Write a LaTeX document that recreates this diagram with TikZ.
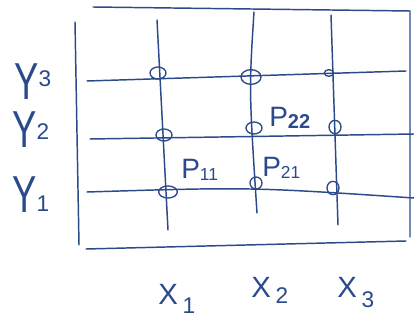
\documentclass[tikz,border=0pt]{standalone}
\usepackage{fontspec}
\setmainfont{Liberation Sans}
\usetikzlibrary{shapes.geometric}
\definecolor{ink}{HTML}{2B4A8C}
\newcommand{\bigY}{\scalebox{0.7}[1]{\fontsize{39}{39}\selectfont Y}}
\begin{document}
\begin{tikzpicture}[x=0.75pt,y=-0.75pt,
  pen/.style={draw=ink, line width=1.1pt, line cap=round},
  ring/.style={ellipse, draw=ink, line width=1pt, minimum width=12pt, minimum height=9pt, inner sep=0pt},
  lbl/.style={text=ink, inner sep=0pt},
  ylbl/.style={lbl, text height=28pt, text depth=0pt},
  mid/.style={lbl, font=\fontsize{22}{22}\selectfont},
  small/.style={lbl, font=\fontsize{21}{21}\selectfont}]
\useasboundingbox[fill=white] (0,0) rectangle (414,320);
% frame
\coordinate (tl) at (93,7);
\coordinate (tr) at (410,11);
\coordinate (br) at (410,237);
\coordinate (bl) at (86,249);
\coordinate (bre) at (406,241);
\coordinate (lt) at (75,22);
\coordinate (lb) at (79,245);
\draw[pen] (tl) -- (tr) -- (br);
\draw[pen] (bl) -- (bre);
\draw[pen] (lt) -- (lb);
% grid lines
\coordinate (h3a) at (87,81); \coordinate (h3b) at (406,71);
\coordinate (h2a) at (90,139); \coordinate (h2b) at (414,134);
\coordinate (h1a) at (87,192); \coordinate (h1m) at (250,187); \coordinate (h1b) at (414,198);
\coordinate (v1a) at (157,20); \coordinate (v1b) at (168,230);
\coordinate (v2a) at (254,12); \coordinate (v2m) at (249,90); \coordinate (v2b) at (257,213);
\coordinate (v3a) at (331,15); \coordinate (v3b) at (338,225);
\draw[pen] (h3a) -- (h3b);
\draw[pen] (h2a) -- (h2b);
\draw[pen] (h1a) .. controls (h1m) .. (h1b);
\draw[pen] (v1a) -- (v1b);
\draw[pen] (v2a) .. controls (v2m) .. (v2b);
\draw[pen] (v3a) -- (v3b);
% intersection rings
\node[ring] (c13) at (158,73) {};
\node[ring, minimum width=15pt, minimum height=11pt] (c23) at (251,77) {};
\node[ring, minimum width=7pt, minimum height=5pt] (c33) at (329,73) {};
\node[ring] (c12) at (164,135) {};
\node[ring] (c22) at (254,128) {};
\node[ring, minimum width=9pt, minimum height=10pt] (c32) at (335,127) {};
\node[ring, minimum width=14pt, minimum height=9pt] (c11) at (168,192) {};
\node[ring, minimum width=9pt, minimum height=9pt] (c21) at (256,183) {};
\node[ring, minimum width=9pt, minimum height=10pt] (c31) at (333,188) {};
% axis labels
\node[ylbl, anchor=base west] (y3) at (14,100) {\bigY\raisebox{10pt}{\fontsize{17}{17}\selectfont 3}};
\node[ylbl, anchor=base west] (y2) at (12,148) {\bigY\raisebox{6pt}{\fontsize{17}{17}\selectfont 2}};
\node[ylbl, anchor=base west] (y1) at (12,213) {\bigY\raisebox{1pt}{\fontsize{17}{17}\selectfont 1}};
\node[mid, anchor=base west] (x1) at (158,305) {X\,\raisebox{-6pt}{\fontsize{17}{17}\selectfont 1}};
\node[mid, anchor=base west] (x2) at (251,297) {X\,\raisebox{-5pt}{\fontsize{17}{17}\selectfont 2}};
\node[mid, anchor=base west] (x3) at (337,298) {X\,\raisebox{-7pt}{\fontsize{17}{17}\selectfont 3}};
% point labels
\node[small, anchor=base west] (p11) at (181,179) {P\raisebox{-1pt}{\fontsize{13}{13}\selectfont 11}};
\node[small, anchor=base west] (p21) at (262,177) {P\raisebox{-1pt}{\fontsize{13}{13}\selectfont 21}};
\node[small, anchor=base west] (p22) at (269,127) {P\raisebox{-1pt}{\fontsize{15}{15}\selectfont\bfseries 22}};
\end{tikzpicture}
\end{document}
